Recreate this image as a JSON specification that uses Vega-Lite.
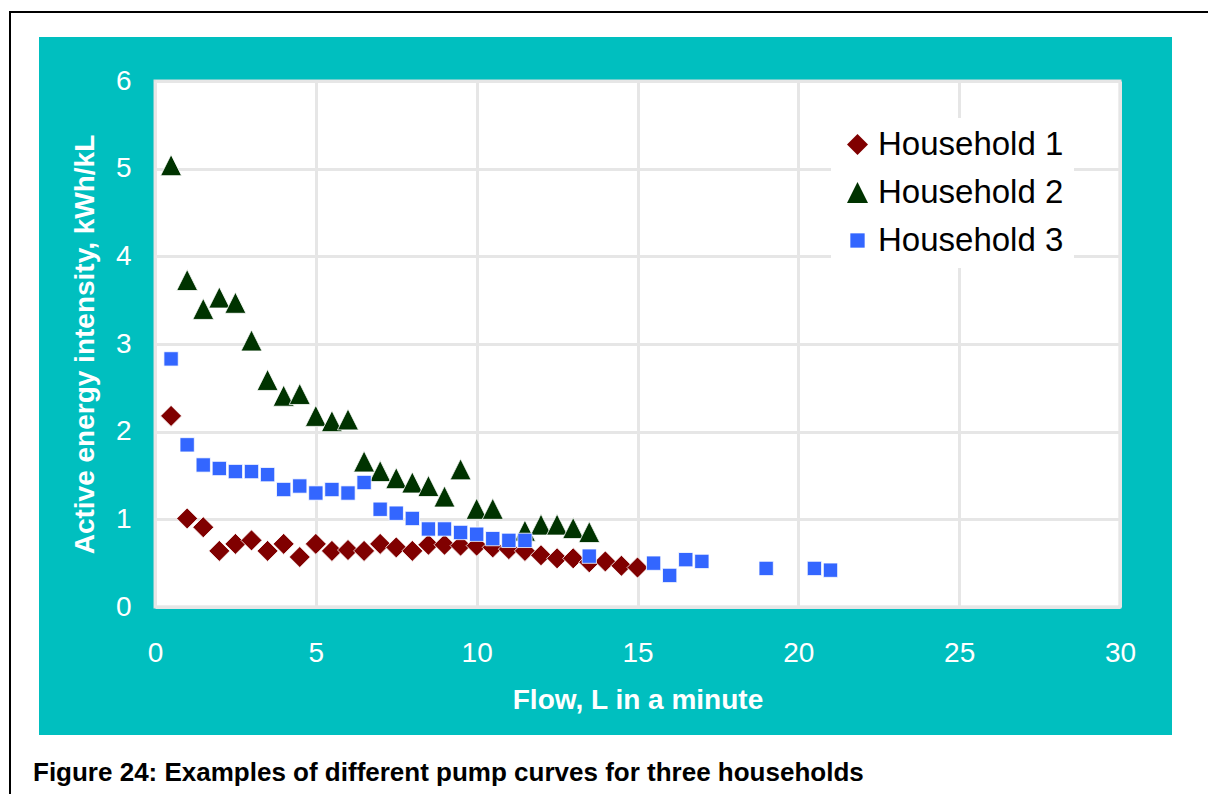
{
  "$schema": "https://vega.github.io/schema/vega-lite/v6.json",
  "autosize": {"type": "none"},
  "width": 965,
  "height": 526,
  "padding": {"left": 155, "top": 81, "right": 88, "bottom": 187},
  "background": "#00BFBF",
  "title": {
    "text": "Figure 24: Examples of different pump curves for three households",
    "orient": "bottom",
    "anchor": "start",
    "frame": "group",
    "dx": -122,
    "offset": -14,
    "baseline": "alphabetic",
    "font": "Liberation Sans",
    "fontSize": 26,
    "fontWeight": "bold",
    "color": "#000000"
  },
  "config": {
    "font": "Liberation Sans",
    "view": {"fill": "white", "stroke": "#DDDDDD", "strokeWidth": 3},
    "axis": {
      "domain": false,
      "ticks": false,
      "tickSize": 0,
      "grid": true,
      "gridColor": "#E6E6E6",
      "gridWidth": 3,
      "labelColor": "white",
      "labelFont": "Liberation Sans",
      "labelFontSize": 28,
      "labelFlush": false,
      "labelOverlap": false,
      "titleColor": "white",
      "titleFont": "Liberation Sans",
      "titleFontSize": 28,
      "titleFontWeight": "bold"
    }
  },
  "layer": [
    {
      "data": {"values": [{}]},
      "mark": {"type": "rect", "fill": "white"},
      "encoding": {"x": {"value": -155}, "x2": {"value": -116}, "y": {"value": -81}, "y2": {"value": 713}}
    },
    {
      "data": {"values": [{}]},
      "mark": {"type": "rect", "fill": "white"},
      "encoding": {"x": {"value": -155}, "x2": {"value": 1053}, "y": {"value": -81}, "y2": {"value": -44}}
    },
    {
      "data": {"values": [{}]},
      "mark": {"type": "rect", "fill": "white"},
      "encoding": {"x": {"value": 1017}, "x2": {"value": 1053}, "y": {"value": -81}, "y2": {"value": 713}}
    },
    {
      "data": {"values": [{}]},
      "mark": {"type": "rect", "fill": "white"},
      "encoding": {"x": {"value": -155}, "x2": {"value": 1053}, "y": {"value": 654}, "y2": {"value": 713}}
    },
    {
      "data": {"values": [{}]},
      "mark": {"type": "rule", "stroke": "black", "strokeWidth": 2},
      "encoding": {"x": {"value": -145}, "y": {"value": -69}, "y2": {"value": 713}}
    },
    {
      "data": {"values": [{}]},
      "mark": {"type": "rule", "stroke": "black", "strokeWidth": 2},
      "encoding": {"x": {"value": -146}, "x2": {"value": 1053}, "y": {"value": -69}}
    },
    {
      "data": {
        "values": [
          {"household": "Household 1", "flow": 0.5, "intensity": 2.18},
          {"household": "Household 1", "flow": 1.0, "intensity": 1.01},
          {"household": "Household 1", "flow": 1.5, "intensity": 0.91},
          {"household": "Household 1", "flow": 2.0, "intensity": 0.64},
          {"household": "Household 1", "flow": 2.5, "intensity": 0.72},
          {"household": "Household 1", "flow": 3.0, "intensity": 0.76},
          {"household": "Household 1", "flow": 3.5, "intensity": 0.64},
          {"household": "Household 1", "flow": 4.0, "intensity": 0.72},
          {"household": "Household 1", "flow": 4.5, "intensity": 0.57},
          {"household": "Household 1", "flow": 5.0, "intensity": 0.72},
          {"household": "Household 1", "flow": 5.5, "intensity": 0.64},
          {"household": "Household 1", "flow": 6.0, "intensity": 0.65},
          {"household": "Household 1", "flow": 6.5, "intensity": 0.64},
          {"household": "Household 1", "flow": 7.0, "intensity": 0.72},
          {"household": "Household 1", "flow": 7.5, "intensity": 0.68},
          {"household": "Household 1", "flow": 8.0, "intensity": 0.64},
          {"household": "Household 1", "flow": 8.5, "intensity": 0.71},
          {"household": "Household 1", "flow": 9.0, "intensity": 0.71},
          {"household": "Household 1", "flow": 9.5, "intensity": 0.70},
          {"household": "Household 1", "flow": 10.0, "intensity": 0.70},
          {"household": "Household 1", "flow": 10.5, "intensity": 0.68},
          {"household": "Household 1", "flow": 11.0, "intensity": 0.66},
          {"household": "Household 1", "flow": 11.5, "intensity": 0.64},
          {"household": "Household 1", "flow": 12.0, "intensity": 0.59},
          {"household": "Household 1", "flow": 12.5, "intensity": 0.555},
          {"household": "Household 1", "flow": 13.0, "intensity": 0.555},
          {"household": "Household 1", "flow": 13.5, "intensity": 0.51},
          {"household": "Household 1", "flow": 14.0, "intensity": 0.52},
          {"household": "Household 1", "flow": 14.5, "intensity": 0.47},
          {"household": "Household 1", "flow": 15.0, "intensity": 0.45},
          {"household": "Household 2", "flow": 0.5, "intensity": 5.04},
          {"household": "Household 2", "flow": 1.0, "intensity": 3.73},
          {"household": "Household 2", "flow": 1.5, "intensity": 3.40},
          {"household": "Household 2", "flow": 2.0, "intensity": 3.53},
          {"household": "Household 2", "flow": 2.5, "intensity": 3.47},
          {"household": "Household 2", "flow": 3.0, "intensity": 3.04},
          {"household": "Household 2", "flow": 3.5, "intensity": 2.59},
          {"household": "Household 2", "flow": 4.0, "intensity": 2.41},
          {"household": "Household 2", "flow": 4.5, "intensity": 2.43},
          {"household": "Household 2", "flow": 5.0, "intensity": 2.18},
          {"household": "Household 2", "flow": 5.5, "intensity": 2.12},
          {"household": "Household 2", "flow": 6.0, "intensity": 2.14},
          {"household": "Household 2", "flow": 6.5, "intensity": 1.66},
          {"household": "Household 2", "flow": 7.0, "intensity": 1.55},
          {"household": "Household 2", "flow": 7.5, "intensity": 1.47},
          {"household": "Household 2", "flow": 8.0, "intensity": 1.42},
          {"household": "Household 2", "flow": 8.5, "intensity": 1.38},
          {"household": "Household 2", "flow": 9.0, "intensity": 1.26},
          {"household": "Household 2", "flow": 9.5, "intensity": 1.57},
          {"household": "Household 2", "flow": 10.0, "intensity": 1.12},
          {"household": "Household 2", "flow": 10.5, "intensity": 1.12},
          {"household": "Household 2", "flow": 11.5, "intensity": 0.87},
          {"household": "Household 2", "flow": 12.0, "intensity": 0.94},
          {"household": "Household 2", "flow": 12.5, "intensity": 0.94},
          {"household": "Household 2", "flow": 13.0, "intensity": 0.90},
          {"household": "Household 2", "flow": 13.5, "intensity": 0.855},
          {"household": "Household 3", "flow": 0.5, "intensity": 2.83},
          {"household": "Household 3", "flow": 1.0, "intensity": 1.85},
          {"household": "Household 3", "flow": 1.5, "intensity": 1.62},
          {"household": "Household 3", "flow": 2.0, "intensity": 1.58},
          {"household": "Household 3", "flow": 2.5, "intensity": 1.545},
          {"household": "Household 3", "flow": 3.0, "intensity": 1.545},
          {"household": "Household 3", "flow": 3.5, "intensity": 1.51},
          {"household": "Household 3", "flow": 4.0, "intensity": 1.34},
          {"household": "Household 3", "flow": 4.5, "intensity": 1.38},
          {"household": "Household 3", "flow": 5.0, "intensity": 1.30},
          {"household": "Household 3", "flow": 5.5, "intensity": 1.34},
          {"household": "Household 3", "flow": 6.0, "intensity": 1.30},
          {"household": "Household 3", "flow": 6.5, "intensity": 1.42},
          {"household": "Household 3", "flow": 7.0, "intensity": 1.115},
          {"household": "Household 3", "flow": 7.5, "intensity": 1.07},
          {"household": "Household 3", "flow": 8.0, "intensity": 1.01},
          {"household": "Household 3", "flow": 8.5, "intensity": 0.89},
          {"household": "Household 3", "flow": 9.0, "intensity": 0.89},
          {"household": "Household 3", "flow": 9.5, "intensity": 0.85},
          {"household": "Household 3", "flow": 10.0, "intensity": 0.83},
          {"household": "Household 3", "flow": 10.5, "intensity": 0.78},
          {"household": "Household 3", "flow": 11.0, "intensity": 0.76},
          {"household": "Household 3", "flow": 11.5, "intensity": 0.76},
          {"household": "Household 3", "flow": 13.5, "intensity": 0.58},
          {"household": "Household 3", "flow": 15.5, "intensity": 0.50},
          {"household": "Household 3", "flow": 16.0, "intensity": 0.36},
          {"household": "Household 3", "flow": 16.5, "intensity": 0.54},
          {"household": "Household 3", "flow": 17.0, "intensity": 0.52},
          {"household": "Household 3", "flow": 19.0, "intensity": 0.44},
          {"household": "Household 3", "flow": 20.5, "intensity": 0.44},
          {"household": "Household 3", "flow": 21.0, "intensity": 0.42}
        ]
      },
      "mark": {"type": "point", "filled": true, "opacity": 1, "stroke": "white", "strokeWidth": 0.8},
      "encoding": {
        "x": {
          "field": "flow",
          "type": "quantitative",
          "scale": {"domain": [0, 30], "nice": false, "zero": false},
          "axis": {
            "values": [0, 5, 10, 15, 20, 25, 30],
            "title": "Flow, L in a minute",
            "labelPadding": 32,
            "titleY": 101,
            "titleBaseline": "alphabetic"
          }
        },
        "y": {
          "field": "intensity",
          "type": "quantitative",
          "scale": {"domain": [0, 6], "nice": false},
          "axis": {
            "values": [0, 1, 2, 3, 4, 5, 6],
            "title": "Active energy intensity, kWh/kL",
            "labelPadding": 24,
            "titleX": -62,
            "titleY": 263,
            "titleAngle": 270,
            "titleAlign": "center",
            "titleBaseline": "alphabetic"
          }
        },
        "color": {
          "field": "household",
          "type": "nominal",
          "scale": {"domain": ["Household 1", "Household 2", "Household 3"], "range": ["#800000", "#003300", "#3366FF"]},
          "legend": {
            "title": null,
            "orient": "none",
            "legendX": 676,
            "legendY": 37,
            "fillColor": "white",
            "padding": 10,
            "rowPadding": 14,
            "labelFont": "Liberation Sans",
            "labelFontSize": 33,
            "labelColor": "black",
            "labelLimit": 0,
            "labelOffset": 4,
            "symbolSize": 320,
            "symbolStrokeWidth": 0
          }
        },
        "shape": {
          "field": "household",
          "type": "nominal",
          "scale": {"domain": ["Household 1", "Household 2", "Household 3"], "range": ["diamond", "M0,-1L1,1L-1,1Z", "square"]}
        },
        "size": {
          "field": "household",
          "type": "nominal",
          "scale": {"type": "ordinal", "domain": ["Household 1", "Household 2", "Household 3"], "range": [441, 441, 205]},
          "legend": null
        }
      }
    }
  ]
}
